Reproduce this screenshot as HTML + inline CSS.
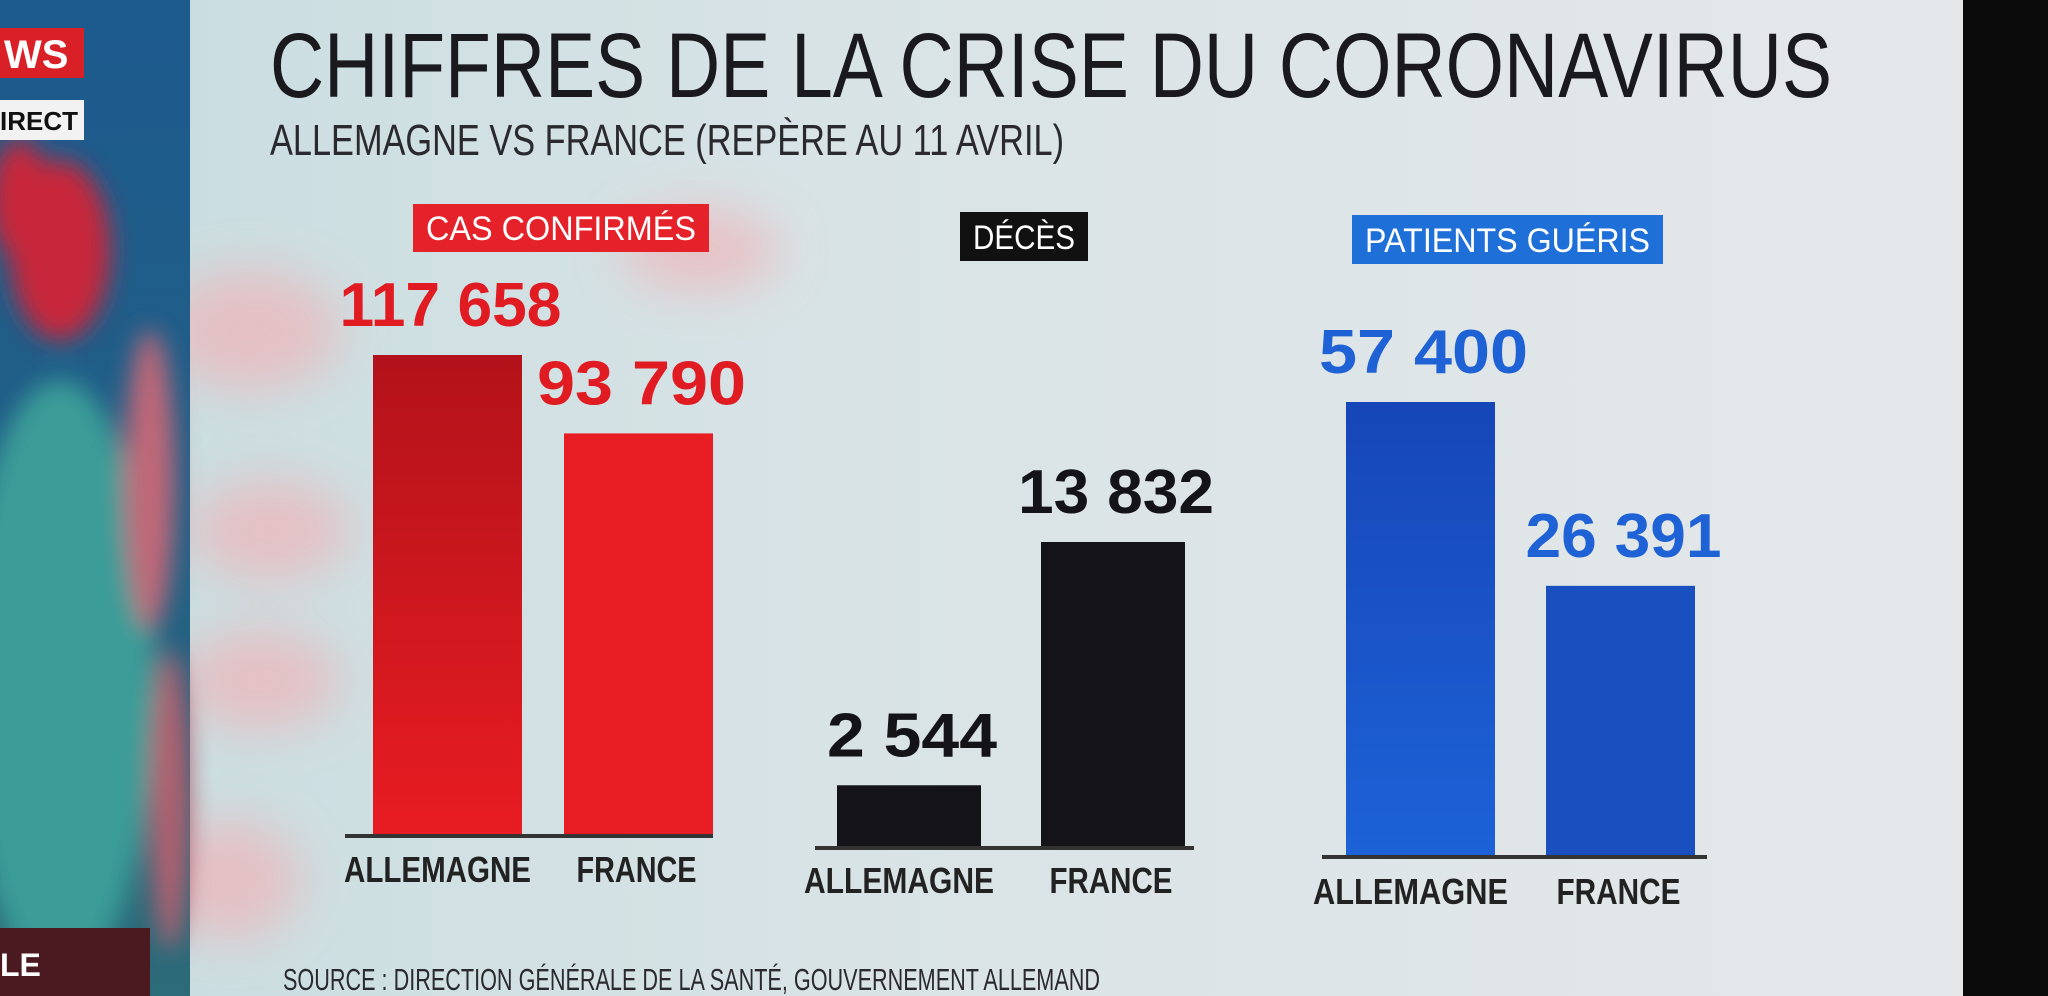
<!DOCTYPE html>
<html><head><meta charset="utf-8">
<style>
html,body{margin:0;padding:0;width:2048px;height:996px;overflow:hidden;background:#d8e4e6}
svg{display:block}
text{font-family:"Liberation Sans",sans-serif}
</style></head>
<body>
<svg id="chart" width="2048" height="996" viewBox="0 0 2048 996" xmlns="http://www.w3.org/2000/svg">
<defs>
<linearGradient id="bg" x1="0" y1="0" x2="1" y2="0">
<stop offset="0" stop-color="#c6dcdf"/><stop offset="0.4" stop-color="#d8e3e6"/><stop offset="1" stop-color="#e6e8ea"/>
</linearGradient>
<linearGradient id="left" x1="0" y1="0" x2="0" y2="1">
<stop offset="0" stop-color="#1d5a8e"/><stop offset="0.5" stop-color="#215f86"/><stop offset="1" stop-color="#2c6b78"/>
</linearGradient>
<linearGradient id="redg" x1="0" y1="0" x2="0" y2="1"><stop offset="0" stop-color="#b3121a"/><stop offset="1" stop-color="#e81c22"/></linearGradient>
<linearGradient id="blueg" x1="0" y1="0" x2="0" y2="1"><stop offset="0" stop-color="#1646b8"/><stop offset="1" stop-color="#1d62d8"/></linearGradient>
<filter id="blur"><feGaussianBlur stdDeviation="25"/></filter>
<filter id="blur2"><feGaussianBlur stdDeviation="12"/></filter>
</defs>
<rect x="0" y="0" width="2048" height="996" fill="url(#bg)"/>
<g filter="url(#blur)" fill="#f0b4b8" opacity="0.7">
<ellipse cx="250" cy="330" rx="90" ry="60"/><ellipse cx="270" cy="530" rx="80" ry="50"/><ellipse cx="260" cy="680" rx="80" ry="50"/><ellipse cx="230" cy="880" rx="70" ry="60"/><ellipse cx="700" cy="250" rx="80" ry="40"/>
</g>
<rect x="0" y="0" width="190" height="996" fill="url(#left)"/>
<g filter="url(#blur2)">
<ellipse cx="60" cy="250" rx="50" ry="90" fill="#c8283a"/>
<ellipse cx="20" cy="200" rx="30" ry="60" fill="#c8283a"/>
<ellipse cx="60" cy="680" rx="95" ry="300" fill="#3a9c98"/>
<ellipse cx="150" cy="480" rx="25" ry="150" fill="#c06878"/>
<ellipse cx="170" cy="800" rx="20" ry="150" fill="#b06070"/>
</g>
<rect x="0" y="28" width="84" height="50" fill="#d92027"/>
<text x="4" y="68" font-size="40" font-weight="bold" fill="#fff">WS</text>
<rect x="0" y="100" width="84" height="40" fill="#f2f2f2"/>
<text x="0" y="130" font-size="26" font-weight="bold" fill="#111">IRECT</text>
<rect x="0" y="928" width="150" height="68" fill="#4a1a20"/>
<text x="0" y="976" font-size="32" font-weight="bold" fill="#fff">LE</text>
<rect x="1963" y="0" width="85" height="996" fill="#0b0b0c"/>
<text x="270" y="97" font-size="92" fill="#1a1a1e" textLength="1562" lengthAdjust="spacingAndGlyphs">CHIFFRES DE LA CRISE DU CORONAVIRUS</text>
<text x="270" y="155" font-size="44" fill="#2a2a2e" textLength="794" lengthAdjust="spacingAndGlyphs">ALLEMAGNE VS FRANCE (REPÈRE AU 11 AVRIL)</text>
<text x="283" y="990" font-size="31" fill="#2a2a2e" textLength="817" lengthAdjust="spacingAndGlyphs">SOURCE : DIRECTION GÉNÉRALE DE LA SANTÉ, GOUVERNEMENT ALLEMAND</text>
<g id="panels"></g>
</svg>
<script>
const categories = ["ALLEMAGNE", "FRANCE"];
const panelTitles = ["CAS CONFIRMÉS", "DÉCÈS", "PATIENTS GUÉRIS"];
const casValues = [117658, 93790];
const decesValues = [2544, 13832];
const guerisValues = [57400, 26391];
const casLabels = ["117 658", "93 790"];
const decesLabels = ["2 544", "13 832"];
const guerisLabels = ["57 400", "26 391"];

const series = [casValues, decesValues, guerisValues];
const labelSets = [casLabels, decesLabels, guerisLabels];
const layout = [
 {x0:373, bw:149, gap:42, base:836, maxH:481, dmin:-28770, ax0:345, ax1:713, fill:["url(#redg)","#e81d24"], text:"#e01c22", box:[413,204,296,48], boxFill:"#e5212a", catY:882, tw:[187,120]},
 {x0:837, bw:144, gap:60, base:848, maxH:306, dmin:-367, ax0:815, ax1:1194, fill:["#141418","#141418"], text:"#141418", box:[960,212,128,49], boxFill:"#111", catY:893, tw:[190,123]},
 {x0:1346,bw:149, gap:51, base:857, maxH:455, dmin:-19350, ax0:1322,ax1:1707, fill:["url(#blueg)","#1a4fc0"], text:"#1f62d6", box:[1352,215,311,49], boxFill:"#1f6fd8", catY:904, tw:[195,124]}
];
const NS="http://www.w3.org/2000/svg";
const g=document.getElementById('panels');
function mk(tag,attrs,txt){const e=document.createElementNS(NS,tag);for(const k in attrs)e.setAttribute(k,attrs[k]);if(txt!==undefined)e.textContent=txt;g.appendChild(e);return e;}
function yScale(p,v,max){return p.base - (v-p.dmin)/(max-p.dmin)*p.maxH;}
function labelWidth(s){let w=0;for(const ch of s){w+= ch===' '?14:(ch==='1'?26:39);}return w;}
series.forEach((vals,pi)=>{
 const p=layout[pi];
 const max=Math.max(...vals);
 const b=p.box;
 const box=mk('rect',{x:b[0],y:b[1],width:b[2],height:b[3],fill:p.boxFill});
 
 
 const tt=mk('text',{x:b[0]+b[2]/2,y:b[1]+b[3]-12,'font-size':34,fill:'#fff','text-anchor':'middle',textLength:b[2]-26,lengthAdjust:'spacingAndGlyphs'},panelTitles[pi]);
 
 
 vals.forEach((v,i)=>{
  const x=p.x0+i*(p.bw+p.gap);
  const top=yScale(p,v,max);
  const r=mk('rect',{x:x,y:top,width:p.bw,height:p.base-top,fill:p.fill[i]});
  
  
  const lbl=labelSets[pi][i];
  const t=mk('text',{x:x+p.bw/2+3,y:top-29,'font-size':62,'font-weight':'bold',fill:p.text,'text-anchor':'middle',textLength:labelWidth(lbl),lengthAdjust:'spacingAndGlyphs'},lbl);
  
  
  const c=mk('text',{x:x+p.bw/2-(i===0?10:2),y:p.catY,'font-size':36,'font-weight':'bold',fill:'#222','text-anchor':'middle',textLength:p.tw[i],lengthAdjust:'spacingAndGlyphs'},categories[i]);
  
  
 });
 const ax=mk('line',{x1:p.ax0,x2:p.ax1,y1:p.base,y2:p.base,stroke:'#333',"stroke-width":4});
 
 
});
</script>
</body></html>
